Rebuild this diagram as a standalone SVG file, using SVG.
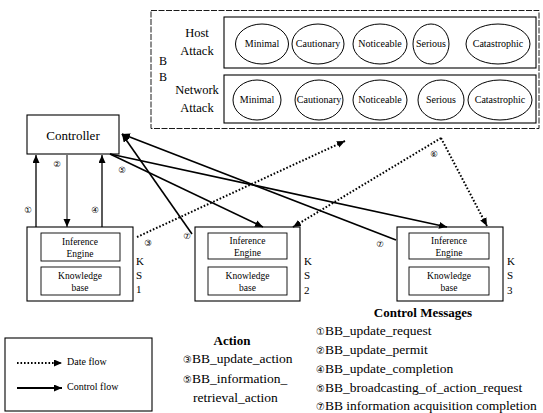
<svg xmlns="http://www.w3.org/2000/svg" width="543" height="413" viewBox="0 0 543 413">
<style>
text{font-family:'Liberation Serif','Tinos','Times New Roman','DejaVu Serif',serif;fill:#000}
.box{fill:none;stroke:#000;stroke-width:1.1}
.ibox{fill:none;stroke:#000;stroke-width:0.9}
.ell{fill:none;stroke:#000;stroke-width:1}
.et{font-size:10px;text-anchor:middle}
.lab{font-size:12.5px;text-anchor:middle}
.ks{font-size:9.5px;text-anchor:middle}
.kl{font-size:11px}
.ctl{stroke:#000;stroke-width:1.6;fill:none}
.dat{stroke:#000;stroke-width:2;fill:none;stroke-dasharray:1.6 1.9}
text.num{font-family:'DejaVu Sans',sans-serif;font-size:8.5px;text-anchor:middle}
.li{font-size:13.5px}
tspan.cn{font-family:'DejaVu Sans',sans-serif;font-size:10px}
</style>
<defs>
<marker id="ah" markerUnits="userSpaceOnUse" markerWidth="10" markerHeight="8" refX="8" refY="3.5" orient="auto">
<path d="M0,0 L8,3.5 L0,7 Z" fill="#000"/>
</marker>
</defs>

<g id="bb">
<rect x="151" y="10.5" width="388" height="118" fill="none" stroke="#000" stroke-width="0.9" stroke-dasharray="6 1.5"/>
<text x="159" y="65" class="kl" style="font-size:12px">B</text>
<text x="159" y="81" class="kl" style="font-size:12px">B</text>
<g id="host">
<rect x="224" y="17" width="312" height="51" class="box"/>
<text x="197" y="37" class="lab">Host</text>
<text x="197" y="55" class="lab">Attack</text>
<ellipse cx="262" cy="44" rx="26.5" ry="20" class="ell"/><text x="262" y="47" class="et">Minimal</text>
<ellipse cx="318" cy="44" rx="26" ry="20" class="ell"/><text x="318" y="47" class="et">Cautionary</text>
<ellipse cx="380" cy="44" rx="27" ry="20" class="ell"/><text x="380" y="47" class="et">Noticeable</text>
<ellipse cx="431" cy="44" rx="18" ry="20" class="ell"/><text x="431" y="47" class="et">Serious</text>
<ellipse cx="498" cy="44" rx="32" ry="20" class="ell"/><text x="498" y="47" class="et">Catastrophic</text>
</g>
<g id="network">
<rect x="224" y="75" width="312" height="48" class="box"/>
<text x="197" y="94" class="lab">Network</text>
<text x="197" y="112" class="lab">Attack</text>
<ellipse cx="257" cy="100" rx="24" ry="20" class="ell"/><text x="257" y="103" class="et">Minimal</text>
<ellipse cx="319" cy="100" rx="24" ry="20" class="ell"/><text x="319" y="103" class="et">Cautionary</text>
<ellipse cx="380" cy="100" rx="27" ry="20" class="ell"/><text x="380" y="103" class="et">Noticeable</text>
<ellipse cx="441" cy="100" rx="23" ry="20" class="ell"/><text x="441" y="103" class="et">Serious</text>
<ellipse cx="500" cy="100" rx="32" ry="20" class="ell"/><text x="500" y="103" class="et">Catastrophic</text>
</g>
</g>

<g id="controller">
<rect x="27" y="115" width="92" height="39" class="box"/>
<text x="73" y="140" style="font-size:13px;text-anchor:middle">Controller</text>
</g>

<g id="ks1">
<rect x="27" y="227" width="106" height="74" class="box"/>
<rect x="41" y="233" width="79" height="28" class="ibox"/>
<text x="80" y="245" class="ks">Inference</text><text x="80" y="257" class="ks">Engine</text>
<rect x="41" y="267" width="79" height="28" class="ibox"/>
<text x="80" y="279" class="ks">Knowledge</text><text x="80" y="291" class="ks">base</text>
<text x="136" y="265" class="kl">K</text><text x="136" y="279" class="kl">S</text><text x="136" y="293" class="kl">1</text>
</g>

<g id="ks2">
<rect x="195" y="227" width="105" height="74" class="box"/>
<rect x="208" y="233" width="79" height="26" class="ibox"/>
<text x="247.5" y="244" class="ks">Inference</text><text x="247.5" y="256" class="ks">Engine</text>
<rect x="208" y="267" width="79" height="28" class="ibox"/>
<text x="247.5" y="279" class="ks">Knowledge</text><text x="247.5" y="291" class="ks">base</text>
<text x="304" y="265" class="kl">K</text><text x="304" y="279" class="kl">S</text><text x="304" y="294" class="kl">2</text>
</g>

<g id="ks3">
<rect x="397" y="227" width="106" height="74" class="box"/>
<rect x="409" y="233" width="80" height="26" class="ibox"/>
<text x="449" y="244" class="ks">Inference</text><text x="449" y="256" class="ks">Engine</text>
<rect x="409" y="267" width="80" height="28" class="ibox"/>
<text x="449" y="279" class="ks">Knowledge</text><text x="449" y="291" class="ks">base</text>
<text x="507" y="265" class="kl">K</text><text x="507" y="279" class="kl">S</text><text x="507" y="294" class="kl">3</text>
</g>

<g id="connectors">
<line x1="36" y1="227" x2="36" y2="155" class="ctl" style="stroke-width:1.3" marker-end="url(#ah)"/>
<line x1="67" y1="155" x2="67" y2="227" class="ctl" style="stroke-width:1" marker-end="url(#ah)"/>
<line x1="102" y1="227" x2="102" y2="155" class="ctl" style="stroke-width:1.3" marker-end="url(#ah)"/>
<line x1="110" y1="154" x2="263" y2="227" class="ctl" marker-end="url(#ah)"/>
<line x1="110" y1="154" x2="447" y2="227" class="ctl" marker-end="url(#ah)"/>
<line x1="192" y1="234" x2="122" y2="134" class="ctl" marker-end="url(#ah)"/>
<line x1="396" y1="240" x2="122" y2="134" class="ctl" marker-end="url(#ah)"/>
<line x1="137" y1="237" x2="345" y2="141" class="dat" marker-end="url(#ah)"/>
<line x1="441" y1="138" x2="293" y2="227" class="dat" marker-end="url(#ah)"/>
<line x1="441" y1="138" x2="487" y2="226" class="dat" marker-end="url(#ah)"/>
<text x="28" y="213" class="num">①</text>
<text x="57" y="167" class="num">②</text>
<text x="95" y="213" class="num">④</text>
<text x="122" y="173" class="num">⑤</text>
<text x="187" y="239" class="num">⑦</text>
<text x="380" y="247" class="num">⑦</text>
<text x="148" y="246" class="num">③</text>
<text x="434" y="157" class="num">⑥</text>
</g>

<g id="legend">
<rect x="5" y="338" width="147" height="73" class="box"/>
<line x1="17" y1="363" x2="62" y2="363" class="dat" style="stroke-width:1.8" marker-end="url(#ah)"/>
<text x="67" y="365" style="font-size:10px">Date flow</text>
<line x1="17" y1="388" x2="62" y2="388" class="ctl" style="stroke-width:2.2" marker-end="url(#ah)"/>
<text x="67" y="390" style="font-size:10px">Control flow</text>
</g>

<g id="action">
<text x="232" y="345" style="font-size:13px;font-weight:bold;text-anchor:middle">Action</text>
<text x="183" y="363" class="li"><tspan class="cn">③</tspan>BB_update_action</text>
<text x="183" y="383" class="li"><tspan class="cn">⑤</tspan>BB_information_</text>
<text x="193" y="402" class="li">retrieval_action</text>
</g>

<g id="control-messages">
<text x="423" y="317" style="font-size:13px;font-weight:bold;text-anchor:middle">Control Messages</text>
<text x="316" y="335" class="li"><tspan class="cn">①</tspan>BB_update_request</text>
<text x="316" y="354" class="li"><tspan class="cn">②</tspan>BB_update_permit</text>
<text x="316" y="373" class="li"><tspan class="cn">④</tspan>BB_update_completion</text>
<text x="316" y="392" class="li"><tspan class="cn">⑤</tspan>BB_broadcasting_of_action_request</text>
<text x="316" y="410" class="li"><tspan class="cn">⑦</tspan>BB information acquisition completion</text>
</g>
</svg>
